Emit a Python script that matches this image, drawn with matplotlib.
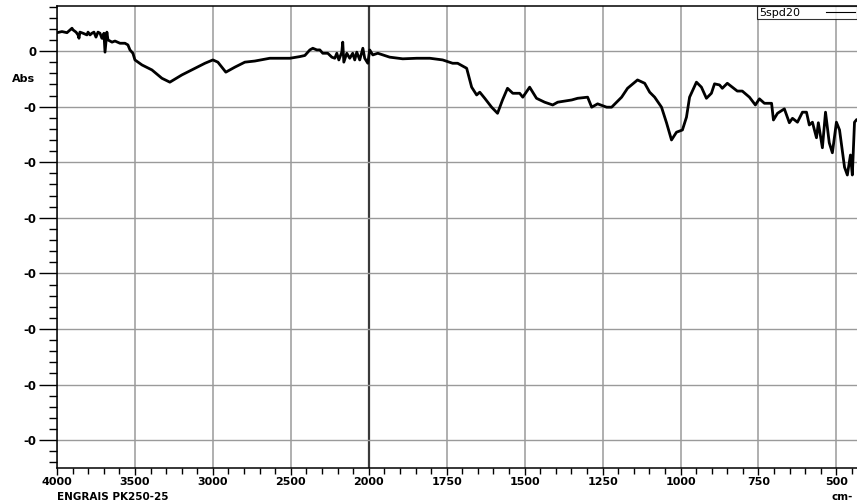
import numpy as np
import matplotlib
matplotlib.use("Agg")
import matplotlib.pyplot as plt
from matplotlib.ticker import FixedLocator, FuncFormatter

# IR spectrum of sample 5spd20 (wavenumber in cm-1, absorbance)
wavenumber = [4000, 3968, 3936, 3904, 3897, 3878, 3865, 3859, 3853, 3833,
              3808, 3801, 3788, 3776, 3763, 3750, 3737, 3724, 3712, 3705,
              3699, 3692, 3680, 3673, 3647, 3628, 3596, 3564, 3545, 3532,
              3513, 3500, 3455, 3391, 3327, 3276, 3199, 3115, 3051, 3000,
              2968, 2917, 2859, 2795, 2731, 2635, 2506, 2442, 2410, 2378,
              2359, 2333, 2314, 2295, 2263, 2237, 2218, 2205, 2192, 2173,
              2167, 2160, 2141, 2122, 2103, 2090, 2077, 2058, 2038, 2026,
              2006, 1997, 1987, 1971, 1933, 1891, 1846, 1804, 1763, 1731,
              1715, 1686, 1670, 1654, 1644, 1628, 1606, 1587, 1571, 1555,
              1538, 1516, 1506, 1484, 1462, 1436, 1410, 1394, 1349, 1330,
              1298, 1285, 1266, 1237, 1221, 1189, 1170, 1138, 1115, 1099,
              1083, 1061, 1045, 1029, 1013, 994, 981, 971, 949, 933,
              917, 901, 891, 875, 866, 850, 834, 818, 802, 779,
              760, 747, 731, 708, 702, 689, 667, 651, 641, 625,
              609, 596, 587, 577, 564, 558, 545, 535, 523, 513,
              500, 490, 474, 465, 455, 449, 442, 436]
absorbance = [0.033, 0.035, 0.033, 0.041, 0.038, 0.034, 0.029, 0.023, 0.034, 0.032,
              0.029, 0.034, 0.029, 0.032, 0.034, 0.025, 0.034, 0.032, 0.023, 0.023,
              0.032, -0.002, 0.034, 0.020, 0.016, 0.018, 0.014, 0.014, 0.011, 0.002,
              -0.004, -0.016, -0.025, -0.034, -0.049, -0.056, -0.043, -0.031, -0.022, -0.016,
              -0.020, -0.038, -0.029, -0.020, -0.018, -0.013, -0.013, -0.010, -0.008, 0.002,
              0.005, 0.002, 0.002, -0.004, -0.004, -0.011, -0.013, -0.004, -0.016, -0.002,
              0.016, -0.020, -0.004, -0.013, -0.004, -0.016, -0.002, -0.016, 0.005, -0.013,
              -0.022, 0.002, -0.007, -0.004, -0.011, -0.014, -0.013, -0.013, -0.016, -0.022,
              -0.022, -0.031, -0.065, -0.079, -0.074, -0.085, -0.101, -0.112, -0.088, -0.067,
              -0.076, -0.076, -0.083, -0.065, -0.085, -0.092, -0.097, -0.092, -0.088, -0.085,
              -0.083, -0.101, -0.095, -0.101, -0.101, -0.083, -0.067, -0.052, -0.058, -0.074,
              -0.083, -0.101, -0.129, -0.160, -0.146, -0.142, -0.119, -0.083, -0.056, -0.065,
              -0.085, -0.076, -0.059, -0.061, -0.067, -0.058, -0.065, -0.072, -0.072, -0.083,
              -0.097, -0.086, -0.094, -0.094, -0.124, -0.112, -0.104, -0.129, -0.121, -0.128,
              -0.110, -0.110, -0.133, -0.128, -0.156, -0.129, -0.174, -0.110, -0.165, -0.183,
              -0.128, -0.142, -0.209, -0.223, -0.187, -0.223, -0.128, -0.124]

x_major = [4000, 3500, 3000, 2500, 2000, 1750, 1500, 1250, 1000, 750, 500]
y_major = [0.0, -0.1, -0.2, -0.3, -0.4, -0.5, -0.6, -0.7]


# wavenumbers above 2000 are drawn at half scale
def fwd(w):
    w = np.asarray(w, dtype=float)
    return np.where(w > 2000, 2000 + (w - 2000) / 2, w)


def inv(u):
    u = np.asarray(u, dtype=float)
    return np.where(u > 2000, 2000 + (u - 2000) * 2, u)


plt.rcParams['font.family'] = 'DejaVu Sans'

fig = plt.figure(figsize=(8.57, 5.01), dpi=100)
ax = fig.add_axes([57 / 857, 1 - 468 / 501, 1 - 57 / 857, (468 - 6) / 501])

ax.set_xscale('function', functions=(fwd, inv))
ax.plot(wavenumber, absorbance, color='black', lw=2.0, label='5spd20', zorder=3)
ax.set_xlim(4000, 434)
ax.set_ylim(-0.750, 0.081)

ax.xaxis.set_major_locator(FixedLocator(x_major))
x_minor = list(range(3900, 2000, -100)) + list(range(1950, 400, -50))
ax.xaxis.set_minor_locator(FixedLocator([v for v in x_minor if v not in x_major]))
ax.xaxis.set_major_formatter(FuncFormatter(lambda v, p: '%d' % v))

ax.yaxis.set_major_locator(FixedLocator(y_major))
ax.yaxis.set_minor_locator(FixedLocator(np.arange(0.08, -0.76, -0.02)))
ax.yaxis.set_major_formatter(FuncFormatter(lambda v, p: '0' if abs(v) < 1e-9 else '-0'))

ax.tick_params(axis='x', which='major', length=5, width=1, pad=1.5, labelsize=8)
ax.tick_params(axis='x', which='minor', length=4, width=1)
ax.tick_params(axis='y', which='major', length=13, width=1, pad=2, labelsize=8.5)
ax.tick_params(axis='y', which='minor', length=6, width=1)
for lab in ax.get_xticklabels() + ax.get_yticklabels():
    lab.set_fontweight('bold')

for w in x_major:
    if w == 2000:
        ax.axvline(w, color='#3a3a3a', lw=1.6, zorder=1)
    else:
        ax.axvline(w, color='#9a9a9a', lw=1.1, zorder=1)
for a in y_major:
    ax.axhline(a, color='#9a9a9a', lw=1.0, zorder=1)

for side in ['left', 'bottom', 'top']:
    ax.spines[side].set_linewidth(1.1)
ax.spines['right'].set_visible(False)

fig.text(12 / 857, 1 - 79 / 501, 'Abs', fontsize=8, fontweight='bold', va='center', ha='left')
fig.text(57 / 857, 1 - 500 / 501, 'ENGRAIS PK250-25', fontsize=7.5, fontweight='bold',
         va='baseline', ha='left')
fig.text(832 / 857, 1 - 500 / 501, 'cm-', fontsize=7.5, fontweight='bold',
         va='baseline', ha='left')

leg = ax.legend(loc='upper right', markerfirst=False, fontsize=8, frameon=True,
                fancybox=False, borderaxespad=0, borderpad=0.15, handlelength=2.6,
                handletextpad=2.4, bbox_to_anchor=(1.0, 1.0))
leg.get_frame().set_edgecolor('black')
leg.get_frame().set_linewidth(0.8)
leg.get_lines()[0].set_linewidth(0.8)

fig.savefig('out.png', dpi=100)
